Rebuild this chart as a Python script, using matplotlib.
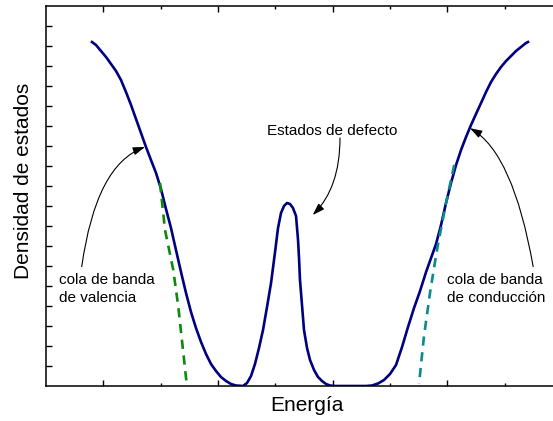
import numpy as np
import matplotlib
matplotlib.use("Agg")
import matplotlib.pyplot as plt

plt.rcParams['font.family'] = ['Liberation Sans', 'DejaVu Sans']

# density of states (energy, DOS) in arbitrary units
energia = [0.802, 0.872, 0.959, 1.047, 1.134, 1.221, 1.308, 1.395, 1.483, 1.570,
           1.657, 1.744, 1.831, 1.919, 2.006, 2.093, 2.180, 2.267, 2.355, 2.442,
           2.529, 2.616, 2.704, 2.791, 2.878, 2.965, 3.052, 3.140, 3.227, 3.314,
           3.436,
           3.506, 3.576, 3.645, 3.715, 3.785, 3.855, 3.925, 3.995, 4.047, 4.099,
           4.151, 4.204, 4.256, 4.308, 4.361, 4.396, 4.413, 4.430, 4.465, 4.500,
           4.553, 4.605, 4.675, 4.744, 4.814, 4.884, 4.954, 5.041,
           5.582, 5.686, 5.791, 5.896, 6.000, 6.105, 6.210, 6.314, 6.419, 6.524,
           6.629, 6.716, 6.803, 6.890, 6.977, 7.064, 7.152, 7.239, 7.326, 7.413,
           7.500, 7.588, 7.675, 7.762, 7.849, 7.936, 8.024, 8.111, 8.198, 8.285,
           8.372, 8.407]
densidad = [17.20, 17.05, 16.75, 16.45, 16.10, 15.75, 15.30, 14.70, 14.05, 13.35,
            12.65, 11.95, 11.30, 10.65, 9.85, 8.85, 7.90, 6.80, 5.70, 4.65,
            3.70, 2.90, 2.20, 1.60, 1.10, 0.75, 0.45, 0.25, 0.10, 0.025,
            0.00,
            0.15, 0.50, 1.10, 1.90, 2.80, 3.95, 5.15, 6.70, 7.90, 8.65,
            9.00, 9.15, 9.10, 8.90, 8.50, 7.30, 6.40, 5.30, 4.05, 2.80,
            1.90, 1.30, 0.80, 0.45, 0.25, 0.10, 0.025, 0.00,
            0.00, 0.025, 0.125, 0.30, 0.60, 1.05, 1.95, 2.95, 3.90, 4.75,
            5.70, 6.40, 7.10, 8.05, 9.15, 10.15, 11.05, 11.80, 12.45, 13.05,
            13.60, 14.15, 14.70, 15.20, 15.60, 15.95, 16.25, 16.50, 16.75, 16.95,
            17.15, 17.20]

# band tails extrapolated toward the gap
cola_val_x = [1.988, 2.076, 2.220, 2.308, 2.454]
cola_val_y = [10.15, 7.80, 5.80, 3.95, 0.10]
cola_cond_x = [7.120, 6.970, 6.825, 6.700, 6.593, 6.506]
cola_cond_y = [11.05, 9.05, 6.90, 4.70, 2.50, 0.10]

fig = plt.figure(figsize=(5.53, 4.21), dpi=100)
ax = fig.add_axes([46/553, 35/421, 516/553, 380/421])

ax.plot(energia, densidad, color='#000080', lw=1.9, solid_joinstyle='round')
ax.plot(cola_val_x, cola_val_y, color='#0a8a0a', lw=1.9, dashes=(3.5, 2.5))
ax.plot(cola_cond_x, cola_cond_y, color='#0a8a8a', lw=1.9, dashes=(3.5, 2.5))

ax.set_xlim(0, 9)
ax.set_ylim(0, 19)
ax.set_xticks([1, 3, 5, 7])
ax.set_xticks([2, 4, 6, 8], minor=True)
ax.set_yticks(np.arange(1, 19))
ax.tick_params(which='major', direction='in', length=4.5, width=1, top=True,
               labelbottom=False, labelleft=False)
ax.tick_params(which='minor', direction='in', length=2.5, width=1, top=True)
ax.tick_params(axis='x', which='both', top=True)
ax.spines['right'].set_visible(False)
for s in ['left', 'bottom', 'top']:
    ax.spines[s].set_linewidth(1.1)

fig.text(307/553, 1 - 411/421, 'Energía', fontsize=15, ha='center', va='baseline')
fig.text(24/553, 1 - 181/421, 'Densidad de estados', fontsize=15,
         rotation=90, ha='center', va='center')

flecha = dict(arrowstyle='-|>,head_length=0.6,head_width=0.2', color='black',
              lw=0.8, shrinkA=0, shrinkB=0, mutation_scale=12)

ax.text(0.227, 5.65, 'cola de banda\nde valencia', fontsize=11, ha='left', va='top',
        linespacing=1.4)
ax.annotate('', xy=(1.727, 11.95), xytext=(0.623, 5.97),
            arrowprops=dict(connectionstyle='angle3,angleA=82,angleB=20', **flecha))

ax.text(6.995, 5.65, 'cola de banda\nde conducción', fontsize=11, ha='left', va='top',
        linespacing=1.4)
ax.annotate('', xy=(7.396, 12.89), xytext=(8.497, 5.97),
            arrowprops=dict(connectionstyle='angle3,angleA=100,angleB=150', **flecha))

ax.text(3.855, 13.1, 'Estados de defecto', fontsize=11, ha='left', va='top')
ax.annotate('', xy=(4.652, 8.55), xytext=(5.128, 12.4),
            arrowprops=dict(connectionstyle='angle3,angleA=90,angleB=45', **flecha))

fig.savefig('out.png', dpi=100)
